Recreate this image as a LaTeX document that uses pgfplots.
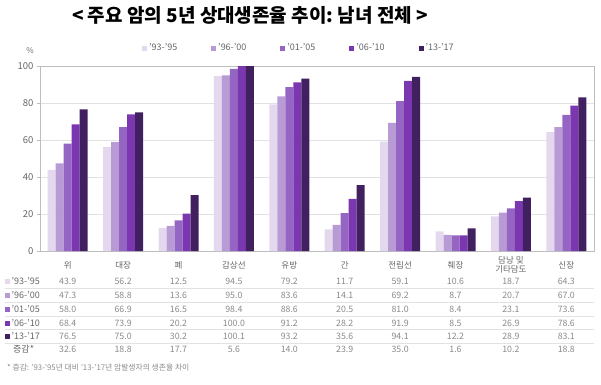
\documentclass[border=0pt]{standalone}
\usepackage{fontspec}
\setmainfont{Noto Sans CJK KR}
\usepackage{pgfplots}
\usepackage{pgfplotstable}
\pgfplotsset{compat=1.18}
\definecolor{c1}{HTML}{E4D8EE}
\definecolor{c2}{HTML}{B89AD5}
\definecolor{c3}{HTML}{9565C3}
\definecolor{c4}{HTML}{7B37AF}
\definecolor{c5}{HTML}{41205F}
\definecolor{txt}{HTML}{666666}
\definecolor{txtl}{HTML}{8A8A8A}
\definecolor{gridgray}{HTML}{E2E2E2}
\definecolor{axgray}{HTML}{BDBDBD}
\pgfplotstableread{
idx s1 s2 s3 s4 s5 diff
0 43.9 47.3 58.0 68.4 76.5 32.6
1 56.2 58.8 66.9 73.9 75.0 18.8
2 12.5 13.6 16.5 20.2 30.2 17.7
3 94.5 95.0 98.4 100.0 100.1 5.6
4 79.2 83.6 88.6 91.2 93.2 14.0
5 11.7 14.1 20.5 28.2 35.6 23.9
6 59.1 69.2 81.0 91.9 94.1 35.0
7 10.6 8.7 8.4 8.5 12.2 1.6
8 18.7 20.7 23.1 26.9 28.9 10.2
9 64.3 67.0 73.6 78.6 83.1 18.8
}\data
\begin{document}
\begin{tikzpicture}
\path[use as bounding box] (0,0) rectangle (601pt,384pt);
\begin{axis}[
 at={(40pt,133pt)}, anchor=south west,
 scale only axis, width=554pt, height=185pt,
 xmin=-0.5, xmax=9.5, ymin=0, ymax=100,
 ybar=0pt, bar width=8pt,
 xtick={0,...,9},
 xticklabels={위,대장,폐,갑상선,유방,간,전립선,췌장,{담낭 및\\기타담도},신장},
 xticklabel style={anchor=center, yshift=-11pt, align=center, font=\fontsize{8.5}{9.5}\selectfont, text=txt},
 x tick style={draw=none},
 ytick={0,20,...,100},
 ytick pos=left, tick align=outside, major tick length=3pt,
 y tick style={draw=axgray},
 yticklabel style={font=\fontsize{9.5}{11}\selectfont, text=txt},
 /pgf/number format/assume math mode=true,
 ymajorgrids, major grid style={draw=gridgray},
 axis line style={draw=axgray},
 legend columns=5,
 legend style={at={(0.184,1.097)}, anchor=west, draw=none, fill=none,
   font=\fontsize{9}{10}\selectfont, text=txt, inner sep=0pt,
   /tikz/every even column/.append style={column sep=32pt}},
 legend image code/.code={\fill[#1,draw=none] (0pt,-2.5pt) rectangle (5pt,2.5pt);},
]
\addplot[fill=c1, draw=none] table[x=idx,y=s1]{\data};
\addplot[fill=c2, draw=none] table[x=idx,y=s2]{\data};
\addplot[fill=c3, draw=none] table[x=idx,y=s3]{\data};
\addplot[fill=c4, draw=none] table[x=idx,y=s4]{\data};
\addplot[fill=c5, draw=none] table[x=idx,y=s5]{\data};
\legend{’93-’95,’96-’00,’01-’05,’06-’10,’13-’17}
\end{axis}
\begin{scope}[x=1pt,y=1pt]
\node[font=\bfseries\fontsize{19}{22}\selectfont, text=black] at (250,369) {<\ 주요\ 암의\ 5년\ 상대생존율\ 추이:\ 남녀\ 전체\ >};
\node[font=\fontsize{8}{9}\selectfont, text=txt] at (30,333) {\%};
\foreach \yy in {288,302,316,329,343} \draw[gridgray, line width=0.8pt] (5,384-\yy) -- (594,384-\yy);
\foreach \c/\yy/\col/\lab in {s1/281/c1/’93-’95, s2/295/c2/’96-’00, s3/309/c3/’01-’05, s4/323/c4/’06-’10, s5/336/c5/’13-’17} {
  \fill[\col] (5,{384-\yy-2.5}) rectangle (10,{384-\yy+2.5});
  \node[anchor=west, inner sep=1pt, font=\fontsize{9}{10}\selectfont, text=txt] at (10.5,{384-\yy}) {\lab};
  \foreach \r in {0,...,9} {
    \pgfplotstablegetelem{\r}{\c}\of\data
    \node[font=\fontsize{8.8}{10}\selectfont, text=txtl] at ({40+55.4*(\r+0.5)},{384-\yy}) {\pgfplotsretval};
  }
}
\node[anchor=west, inner sep=1pt, font=\fontsize{9}{10}\selectfont, text=txt] at (12,{384-349}) {증감*};
\foreach \r in {0,...,9} {
  \pgfplotstablegetelem{\r}{diff}\of\data
  \node[font=\fontsize{8.8}{10}\selectfont, text=txtl] at ({40+55.4*(\r+0.5)},{384-349}) {\pgfplotsretval};
}
\node[anchor=west, inner sep=0pt, font=\fontsize{7.8}{9}\selectfont, text=txtl] at (7,{384-368}) {* 증감: ’93-’95년 대비 ’13-’17년 암발생자의 생존율 차이};
\end{scope}
\end{tikzpicture}
\end{document}
